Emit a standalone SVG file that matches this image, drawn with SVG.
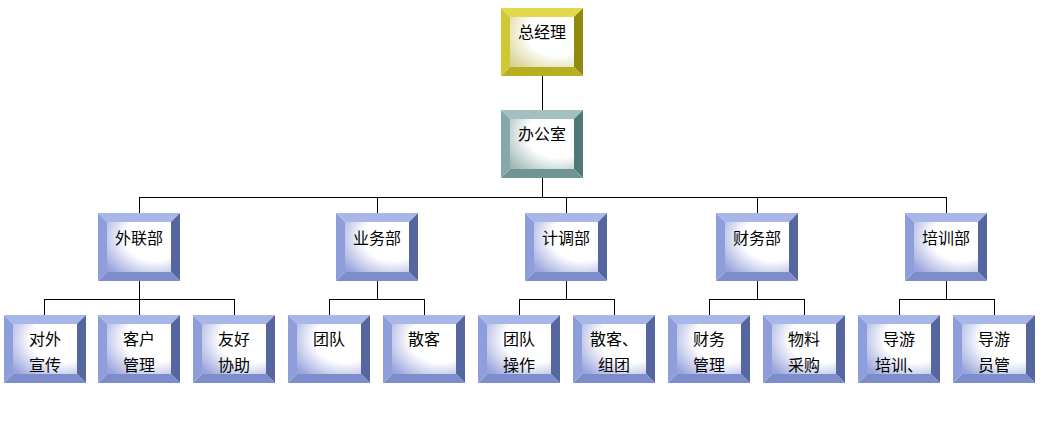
<svg xmlns="http://www.w3.org/2000/svg" width="1059" height="434" viewBox="0 0 1059 434">
<defs>
<radialGradient id="gb" cx="0.75" cy="0.3" r="0.95" fx="0.75" fy="0.3">
<stop offset="0" stop-color="#ffffff"/><stop offset="0.5" stop-color="#ffffff"/><stop offset="1" stop-color="#9aa4dc"/>
</radialGradient>
<radialGradient id="gy" cx="0.75" cy="0.3" r="0.95" fx="0.75" fy="0.3">
<stop offset="0" stop-color="#ffffff"/><stop offset="0.5" stop-color="#ffffff"/><stop offset="1" stop-color="#d8d290"/>
</radialGradient>
<radialGradient id="gt" cx="0.75" cy="0.3" r="0.95" fx="0.75" fy="0.3">
<stop offset="0" stop-color="#ffffff"/><stop offset="0.5" stop-color="#ffffff"/><stop offset="1" stop-color="#9fb8b8"/>
</radialGradient>
</defs>
<style>
.blue .t{fill:#a9b6e8}.blue .r{fill:#56669f}.blue .b{fill:#7d8dcc}.blue .l{fill:#8d9edb}.blue .f{fill:url(#gb)}
.yel .t{fill:#e2da4a}.yel .r{fill:#918810}.yel .b{fill:#b8ae22}.yel .l{fill:#cfc734}.yel .f{fill:url(#gy)}
.teal .t{fill:#a3c0c0}.teal .r{fill:#4f7777}.teal .b{fill:#6e9494}.teal .l{fill:#86a8a8}.teal .f{fill:url(#gt)}
text{font-family:"Noto Sans CJK SC","Noto Sans CJK JP",sans-serif;font-size:16px;fill:#000;text-anchor:middle}
#connectors line{stroke:#000;stroke-width:1;shape-rendering:crispEdges}
</style>
<rect width="1059" height="434" fill="#fff"/>
<g id="connectors">
<line x1="542.5" y1="76" x2="542.5" y2="110"/>
<line x1="542.5" y1="178" x2="542.5" y2="197"/>
<line x1="139.5" y1="197.5" x2="946.5" y2="197.5"/>
<line x1="139.5" y1="197" x2="139.5" y2="213"/>
<line x1="377.5" y1="197" x2="377.5" y2="213"/>
<line x1="566.5" y1="197" x2="566.5" y2="213"/>
<line x1="757.5" y1="197" x2="757.5" y2="213"/>
<line x1="946.5" y1="197" x2="946.5" y2="213"/>
<line x1="139.5" y1="281" x2="139.5" y2="299"/>
<line x1="377.5" y1="281" x2="377.5" y2="299"/>
<line x1="566.5" y1="281" x2="566.5" y2="299"/>
<line x1="757.5" y1="281" x2="757.5" y2="299"/>
<line x1="946.5" y1="281" x2="946.5" y2="299"/>
<line x1="44.5" y1="299.5" x2="234.5" y2="299.5"/>
<line x1="329.5" y1="299.5" x2="424.5" y2="299.5"/>
<line x1="519.5" y1="299.5" x2="614.5" y2="299.5"/>
<line x1="709.5" y1="299.5" x2="804.5" y2="299.5"/>
<line x1="899.5" y1="299.5" x2="994.5" y2="299.5"/>
<line x1="44.5" y1="299" x2="44.5" y2="315"/>
<line x1="139.5" y1="299" x2="139.5" y2="315"/>
<line x1="234.5" y1="299" x2="234.5" y2="315"/>
<line x1="329.5" y1="299" x2="329.5" y2="315"/>
<line x1="424.5" y1="299" x2="424.5" y2="315"/>
<line x1="519.5" y1="299" x2="519.5" y2="315"/>
<line x1="614.5" y1="299" x2="614.5" y2="315"/>
<line x1="709.5" y1="299" x2="709.5" y2="315"/>
<line x1="804.5" y1="299" x2="804.5" y2="315"/>
<line x1="899.5" y1="299" x2="899.5" y2="315"/>
<line x1="994.5" y1="299" x2="994.5" y2="315"/>
</g>
<g id="n-zjl" class="yel" transform="translate(501,8)"><polygon class="t" points="0,0 82,0 73,9 9,9"/><polygon class="r" points="82,0 82,68 73,59 73,9"/><polygon class="b" points="0,68 82,68 73,59 9,59"/><polygon class="l" points="0,0 0,68 9,59 9,9"/><rect class="f" x="9" y="9" width="64" height="50"/><text x="41" y="30">总经理</text></g>
<g id="n-bgs" class="teal" transform="translate(501,110)"><polygon class="t" points="0,0 82,0 73,9 9,9"/><polygon class="r" points="82,0 82,68 73,59 73,9"/><polygon class="b" points="0,68 82,68 73,59 9,59"/><polygon class="l" points="0,0 0,68 9,59 9,9"/><rect class="f" x="9" y="9" width="64" height="50"/><text x="41" y="30">办公室</text></g>
<g id="n-wlb" class="blue" transform="translate(98,213)"><polygon class="t" points="0,0 82,0 73,9 9,9"/><polygon class="r" points="82,0 82,68 73,59 73,9"/><polygon class="b" points="0,68 82,68 73,59 9,59"/><polygon class="l" points="0,0 0,68 9,59 9,9"/><rect class="f" x="9" y="9" width="64" height="50"/><text x="41" y="31">外联部</text></g>
<g id="n-ywb" class="blue" transform="translate(336,213)"><polygon class="t" points="0,0 82,0 73,9 9,9"/><polygon class="r" points="82,0 82,68 73,59 73,9"/><polygon class="b" points="0,68 82,68 73,59 9,59"/><polygon class="l" points="0,0 0,68 9,59 9,9"/><rect class="f" x="9" y="9" width="64" height="50"/><text x="41" y="31">业务部</text></g>
<g id="n-jdb" class="blue" transform="translate(525,213)"><polygon class="t" points="0,0 82,0 73,9 9,9"/><polygon class="r" points="82,0 82,68 73,59 73,9"/><polygon class="b" points="0,68 82,68 73,59 9,59"/><polygon class="l" points="0,0 0,68 9,59 9,9"/><rect class="f" x="9" y="9" width="64" height="50"/><text x="41" y="31">计调部</text></g>
<g id="n-cwb" class="blue" transform="translate(716,213)"><polygon class="t" points="0,0 82,0 73,9 9,9"/><polygon class="r" points="82,0 82,68 73,59 73,9"/><polygon class="b" points="0,68 82,68 73,59 9,59"/><polygon class="l" points="0,0 0,68 9,59 9,9"/><rect class="f" x="9" y="9" width="64" height="50"/><text x="41" y="31">财务部</text></g>
<g id="n-pxb" class="blue" transform="translate(905,213)"><polygon class="t" points="0,0 82,0 73,9 9,9"/><polygon class="r" points="82,0 82,68 73,59 73,9"/><polygon class="b" points="0,68 82,68 73,59 9,59"/><polygon class="l" points="0,0 0,68 9,59 9,9"/><rect class="f" x="9" y="9" width="64" height="50"/><text x="41" y="31">培训部</text></g>
<g id="n-dwxc" class="blue" transform="translate(4,315)"><polygon class="t" points="0,0 82,0 73,9 9,9"/><polygon class="r" points="82,0 82,68 73,59 73,9"/><polygon class="b" points="0,68 82,68 73,59 9,59"/><polygon class="l" points="0,0 0,68 9,59 9,9"/><rect class="f" x="9" y="9" width="64" height="50"/><text x="41" y="30">对外</text><text x="41" y="56">宣传</text></g>
<g id="n-khgl" class="blue" transform="translate(98,315)"><polygon class="t" points="0,0 82,0 73,9 9,9"/><polygon class="r" points="82,0 82,68 73,59 73,9"/><polygon class="b" points="0,68 82,68 73,59 9,59"/><polygon class="l" points="0,0 0,68 9,59 9,9"/><rect class="f" x="9" y="9" width="64" height="50"/><text x="41" y="30">客户</text><text x="41" y="56">管理</text></g>
<g id="n-yhxz" class="blue" transform="translate(193,315)"><polygon class="t" points="0,0 82,0 73,9 9,9"/><polygon class="r" points="82,0 82,68 73,59 73,9"/><polygon class="b" points="0,68 82,68 73,59 9,59"/><polygon class="l" points="0,0 0,68 9,59 9,9"/><rect class="f" x="9" y="9" width="64" height="50"/><text x="41" y="30">友好</text><text x="41" y="56">协助</text></g>
<g id="n-td" class="blue" transform="translate(288,315)"><polygon class="t" points="0,0 82,0 73,9 9,9"/><polygon class="r" points="82,0 82,68 73,59 73,9"/><polygon class="b" points="0,68 82,68 73,59 9,59"/><polygon class="l" points="0,0 0,68 9,59 9,9"/><rect class="f" x="9" y="9" width="64" height="50"/><text x="41" y="30">团队</text></g>
<g id="n-sk" class="blue" transform="translate(383,315)"><polygon class="t" points="0,0 82,0 73,9 9,9"/><polygon class="r" points="82,0 82,68 73,59 73,9"/><polygon class="b" points="0,68 82,68 73,59 9,59"/><polygon class="l" points="0,0 0,68 9,59 9,9"/><rect class="f" x="9" y="9" width="64" height="50"/><text x="41" y="30">散客</text></g>
<g id="n-tdcz" class="blue" transform="translate(478,315)"><polygon class="t" points="0,0 82,0 73,9 9,9"/><polygon class="r" points="82,0 82,68 73,59 73,9"/><polygon class="b" points="0,68 82,68 73,59 9,59"/><polygon class="l" points="0,0 0,68 9,59 9,9"/><rect class="f" x="9" y="9" width="64" height="50"/><text x="41" y="30">团队</text><text x="41" y="56">操作</text></g>
<g id="n-skzt" class="blue" transform="translate(573,315)"><polygon class="t" points="0,0 82,0 73,9 9,9"/><polygon class="r" points="82,0 82,68 73,59 73,9"/><polygon class="b" points="0,68 82,68 73,59 9,59"/><polygon class="l" points="0,0 0,68 9,59 9,9"/><rect class="f" x="9" y="9" width="64" height="50"/><text x="41" y="30">散客、</text><text x="41" y="56">组团</text></g>
<g id="n-cwgl" class="blue" transform="translate(668,315)"><polygon class="t" points="0,0 82,0 73,9 9,9"/><polygon class="r" points="82,0 82,68 73,59 73,9"/><polygon class="b" points="0,68 82,68 73,59 9,59"/><polygon class="l" points="0,0 0,68 9,59 9,9"/><rect class="f" x="9" y="9" width="64" height="50"/><text x="41" y="30">财务</text><text x="41" y="56">管理</text></g>
<g id="n-wlcg" class="blue" transform="translate(763,315)"><polygon class="t" points="0,0 82,0 73,9 9,9"/><polygon class="r" points="82,0 82,68 73,59 73,9"/><polygon class="b" points="0,68 82,68 73,59 9,59"/><polygon class="l" points="0,0 0,68 9,59 9,9"/><rect class="f" x="9" y="9" width="64" height="50"/><text x="41" y="30">物料</text><text x="41" y="56">采购</text></g>
<g id="n-dypx" class="blue" transform="translate(858,315)"><polygon class="t" points="0,0 82,0 73,9 9,9"/><polygon class="r" points="82,0 82,68 73,59 73,9"/><polygon class="b" points="0,68 82,68 73,59 9,59"/><polygon class="l" points="0,0 0,68 9,59 9,9"/><rect class="f" x="9" y="9" width="64" height="50"/><text x="41" y="30">导游</text><text x="41" y="56">培训、</text></g>
<g id="n-dyyg" class="blue" transform="translate(953,315)"><polygon class="t" points="0,0 82,0 73,9 9,9"/><polygon class="r" points="82,0 82,68 73,59 73,9"/><polygon class="b" points="0,68 82,68 73,59 9,59"/><polygon class="l" points="0,0 0,68 9,59 9,9"/><rect class="f" x="9" y="9" width="64" height="50"/><text x="41" y="30">导游</text><text x="41" y="56">员管</text></g>
</svg>
